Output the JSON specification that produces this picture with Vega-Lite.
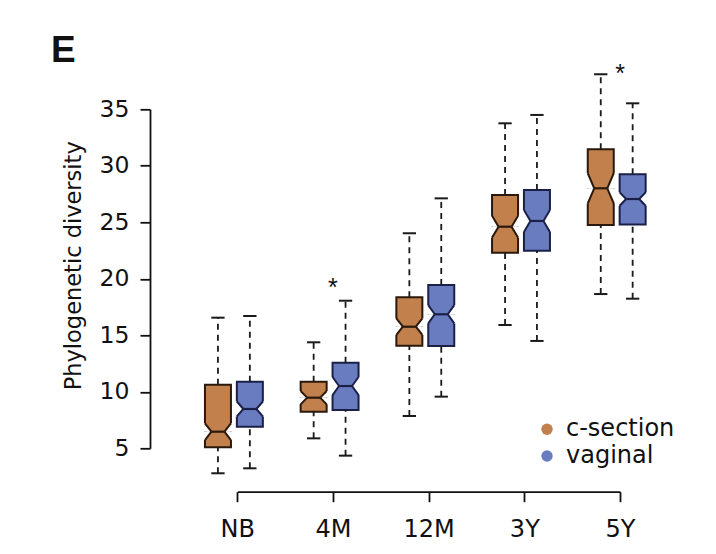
{
  "$schema": "https://vega.github.io/schema/vega-lite/v6.json",
  "width": 480,
  "height": 339,
  "autosize": {"type": "none"},
  "padding": {"left": 150, "top": 109.3, "right": 86, "bottom": 105.7},
  "background": "white",
  "title": {"text": "E", "anchor": "start", "frame": "group", "font": "Liberation Sans", "fontSize": 37, "fontWeight": "bold", "color": "#111111", "dx": -99, "dy": 8, "offset": 0},
  "config": {
    "view": {"stroke": null},
    "axis": {"domainColor": "#111111", "tickColor": "#111111", "domainWidth": 1.8, "tickWidth": 1.8, "labelColor": "#111111", "titleColor": "#111111", "grid": false}
  },
  "resolve": {"scale": {"x": "independent"}, "axis": {"x": "independent"}},
  "layer": [
    {
      "data": {"values": [
        {"age": "NB", "group": "c-section", "box": "NB c-section", "lower": 2.79, "q1": 5.09, "notch_lo": 5.73, "median": 6.47, "notch_hi": 7.21, "q3": 10.63, "upper": 16.56},
        {"age": "NB", "group": "vaginal", "box": "NB vaginal", "lower": 3.23, "q1": 6.91, "notch_lo": 7.82, "median": 8.48, "notch_hi": 9.14, "q3": 10.89, "upper": 16.71},
        {"age": "4M", "group": "c-section", "box": "4M c-section", "lower": 5.88, "q1": 8.24, "notch_lo": 8.89, "median": 9.48, "notch_hi": 10.07, "q3": 10.89, "upper": 14.38},
        {"age": "4M", "group": "vaginal", "box": "4M vaginal", "lower": 4.35, "q1": 8.39, "notch_lo": 9.71, "median": 10.51, "notch_hi": 11.31, "q3": 12.58, "upper": 18.06},
        {"age": "12M", "group": "c-section", "box": "12M c-section", "lower": 7.86, "q1": 14.08, "notch_lo": 15.03, "median": 15.76, "notch_hi": 16.49, "q3": 18.36, "upper": 24.03},
        {"age": "12M", "group": "vaginal", "box": "12M vaginal", "lower": 9.57, "q1": 14.05, "notch_lo": 16.05, "median": 16.86, "notch_hi": 17.67, "q3": 19.45, "upper": 27.12},
        {"age": "3Y", "group": "c-section", "box": "3Y c-section", "lower": 15.91, "q1": 22.31, "notch_lo": 23.65, "median": 24.61, "notch_hi": 25.57, "q3": 27.42, "upper": 33.76},
        {"age": "3Y", "group": "vaginal", "box": "3Y vaginal", "lower": 14.5, "q1": 22.49, "notch_lo": 24.15, "median": 25.12, "notch_hi": 26.09, "q3": 27.86, "upper": 34.5},
        {"age": "5Y", "group": "c-section", "box": "5Y c-section", "lower": 18.65, "q1": 24.76, "notch_lo": 26.68, "median": 28.01, "notch_hi": 29.34, "q3": 31.46, "upper": 38.1},
        {"age": "5Y", "group": "vaginal", "box": "5Y vaginal", "lower": 18.24, "q1": 24.81, "notch_lo": 26.47, "median": 27.06, "notch_hi": 27.65, "q3": 29.25, "upper": 35.53}
      ]},
      "encoding": {
        "x": {"field": "box", "type": "nominal", "axis": null,
          "scale": {"type": "point", "padding": 0, "range": [67.95, 482.65],
            "domain": ["NB c-section", "NB vaginal", "gap1", "4M c-section", "4M vaginal", "gap2", "12M c-section", "12M vaginal", "gap3", "3Y c-section", "3Y vaginal", "gap4", "5Y c-section", "5Y vaginal"]}}
      },
      "layer": [
        {
          "mark": {"type": "rect", "xOffset": -13, "x2Offset": 13, "strokeWidth": 2},
          "encoding": {
            "x2": {"field": "box"},
            "y": {"field": "q1", "type": "quantitative",
              "scale": {"domain": [5, 35], "nice": false, "zero": false},
              "axis": {"values": [5, 10, 15, 20, 25, 30, 35], "tickSize": 10, "labelFont": "DejaVu Sans", "labelFontSize": 23.5, "labelPadding": 11, "title": "Phylogenetic diversity", "titleFont": "DejaVu Sans", "titleFontSize": 22.5, "titleFontWeight": "normal", "titlePadding": 14, "titleY": 156}},
            "y2": {"field": "q3"},
            "fill": {"field": "group", "type": "nominal",
              "scale": {"domain": ["c-section", "vaginal"], "range": ["#C2804C", "#6A7CC0"]},
              "legend": {"orient": "none", "legendX": 385, "legendY": 308, "title": null, "symbolType": "circle", "symbolSize": 130, "symbolStrokeWidth": 0, "labelFont": "DejaVu Sans", "labelFontSize": 24, "labelColor": "#111111", "labelOffset": 7, "rowPadding": 2.7}},
            "stroke": {"field": "group", "type": "nominal", "scale": {"domain": ["c-section", "vaginal"], "range": ["#2A190C", "#1A2048"]}, "legend": null}
          }
        },
        {
          "mark": {"type": "rect", "xOffset": -15, "x2Offset": -6.5,
            "fill": {"gradient": "linear", "x1": 0, "y1": 0, "x2": 1.262, "y2": 0.965,
              "stops": [{"offset": 0, "color": "#ffffff"}, {"offset": 0.5, "color": "#ffffff"}, {"offset": 0.5, "color": "rgba(255,255,255,0)"}, {"offset": 1, "color": "rgba(255,255,255,0)"}]}},
          "encoding": {"x2": {"field": "box"}, "y": {"field": "notch_lo", "type": "quantitative"}, "y2": {"field": "median"}}
        },
        {
          "mark": {"type": "rect", "xOffset": -15, "x2Offset": -6.5,
            "fill": {"gradient": "linear", "x1": 0, "y1": 1, "x2": 1.262, "y2": 0.035,
              "stops": [{"offset": 0, "color": "#ffffff"}, {"offset": 0.5, "color": "#ffffff"}, {"offset": 0.5, "color": "rgba(255,255,255,0)"}, {"offset": 1, "color": "rgba(255,255,255,0)"}]}},
          "encoding": {"x2": {"field": "box"}, "y": {"field": "median", "type": "quantitative"}, "y2": {"field": "notch_hi"}}
        },
        {
          "mark": {"type": "rect", "xOffset": 6.5, "x2Offset": 15,
            "fill": {"gradient": "linear", "x1": 1, "y1": 0, "x2": -0.262, "y2": 0.965,
              "stops": [{"offset": 0, "color": "#ffffff"}, {"offset": 0.5, "color": "#ffffff"}, {"offset": 0.5, "color": "rgba(255,255,255,0)"}, {"offset": 1, "color": "rgba(255,255,255,0)"}]}},
          "encoding": {"x2": {"field": "box"}, "y": {"field": "notch_lo", "type": "quantitative"}, "y2": {"field": "median"}}
        },
        {
          "mark": {"type": "rect", "xOffset": 6.5, "x2Offset": 15,
            "fill": {"gradient": "linear", "x1": 1, "y1": 1, "x2": -0.262, "y2": 0.035,
              "stops": [{"offset": 0, "color": "#ffffff"}, {"offset": 0.5, "color": "#ffffff"}, {"offset": 0.5, "color": "rgba(255,255,255,0)"}, {"offset": 1, "color": "rgba(255,255,255,0)"}]}},
          "encoding": {"x2": {"field": "box"}, "y": {"field": "median", "type": "quantitative"}, "y2": {"field": "notch_hi"}}
        },
        {
          "transform": [{"fold": ["notch_lo", "notch_hi"], "as": ["stat", "value"]}],
          "mark": {"type": "rule", "xOffset": -13, "x2Offset": -6.5, "strokeWidth": 2},
          "encoding": {"x2": {"field": "box"}, "y": {"field": "value", "type": "quantitative"}, "y2": {"field": "median"},
            "stroke": {"field": "group", "type": "nominal", "legend": null}}
        },
        {
          "transform": [{"fold": ["notch_lo", "notch_hi"], "as": ["stat", "value"]}],
          "mark": {"type": "rule", "xOffset": 13, "x2Offset": 6.5, "strokeWidth": 2},
          "encoding": {"x2": {"field": "box"}, "y": {"field": "value", "type": "quantitative"}, "y2": {"field": "median"},
            "stroke": {"field": "group", "type": "nominal", "legend": null}}
        },
        {
          "mark": {"type": "rule", "xOffset": -6.5, "x2Offset": 6.5, "strokeWidth": 2.2},
          "encoding": {"x2": {"field": "box"}, "y": {"field": "median", "type": "quantitative"},
            "stroke": {"field": "group", "type": "nominal", "legend": null}}
        },
        {
          "mark": {"type": "rule", "strokeWidth": 1.8, "strokeDash": [6, 5], "color": "#1a1a1a"},
          "encoding": {"y": {"field": "lower", "type": "quantitative"}, "y2": {"field": "q1"}}
        },
        {
          "mark": {"type": "rule", "strokeWidth": 1.8, "strokeDash": [6, 5], "color": "#1a1a1a"},
          "encoding": {"y": {"field": "q3", "type": "quantitative"}, "y2": {"field": "upper"}}
        },
        {
          "transform": [{"fold": ["lower", "upper"], "as": ["stat", "value"]}],
          "mark": {"type": "rule", "xOffset": -6.65, "x2Offset": 6.65, "strokeWidth": 2, "color": "#1a1a1a"},
          "encoding": {"x2": {"field": "box"}, "y": {"field": "value", "type": "quantitative"}}
        }
      ]
    },
    {
      "data": {"values": [
        {"age": "4M", "value": 19.74, "label": "*"},
        {"age": "5Y", "value": 38.63, "label": "*"}
      ]},
      "mark": {"type": "text", "font": "Liberation Sans", "fontSize": 25, "baseline": "alphabetic", "dy": 14, "dx": 0, "color": "#111111"},
      "encoding": {
        "x": {"field": "age", "type": "nominal", "sort": null,
          "scale": {"type": "point", "padding": 0, "range": [87.3, 470], "domain": ["NB", "4M", "12M", "3Y", "5Y"]},
          "axis": {"orient": "bottom", "offset": 43.4, "tickSize": 10, "labelFont": "DejaVu Sans", "labelFontSize": 24, "labelPadding": 16, "labelAngle": 0, "title": null}},
        "y": {"field": "value", "type": "quantitative"},
        "text": {"field": "label"}
      }
    }
  ]
}
